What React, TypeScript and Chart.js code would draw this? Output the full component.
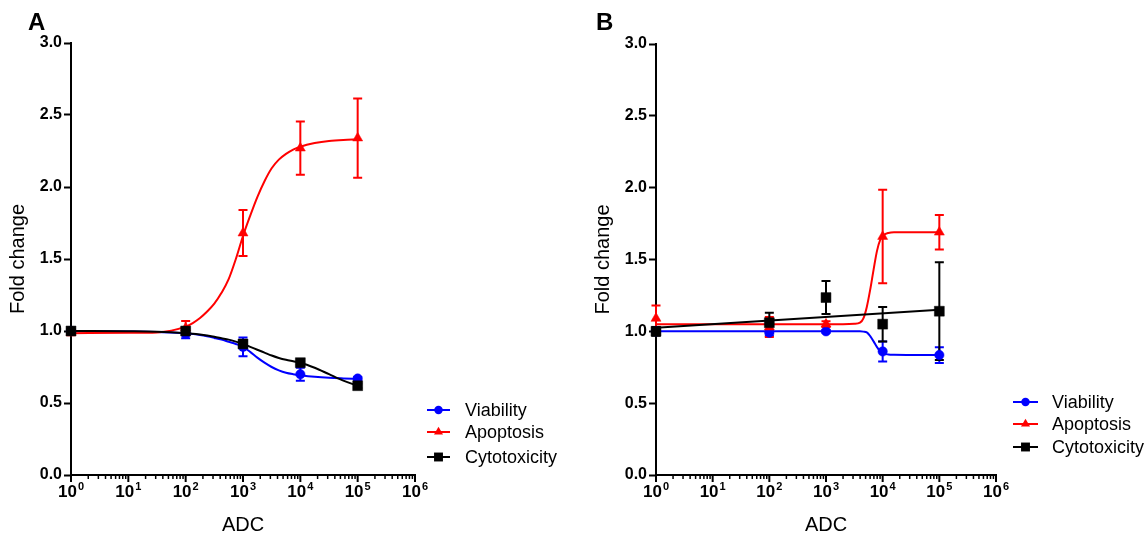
import React, { useEffect, useRef } from 'react';
import { Chart, registerables } from 'chart.js';

Chart.register(...registerables);

const FONT = '"Liberation Sans", Arial, Helvetica, sans-serif';

// ---------- shared ----------
const doses = [1, 100, 1000, 10000, 100000];
const yTicks = [0, 0.5, 1.0, 1.5, 2.0, 2.5, 3.0];
const xDecades = [1, 10, 100, 1000, 10000, 100000, 1000000];
const xExponents = ['0', '1', '2', '3', '4', '5', '6'];
const seriesNames = ['Viability', 'Apoptosis', 'Cytotoxicity'];
const seriesColors = ['#0000ff', '#ff0000', '#000000'];
const seriesStyles = ['circle', 'triangle', 'rect'];
const seriesRadii = [4.7, 5.8, 7];

// ---------- panel A ----------
const viabilityA = [1.0, 0.98, 0.89, 0.7, 0.67];
const viabilityErrA = [0.01, 0.03, 0.065, 0.045, 0.01];
const apoptosisA = [0.99, 1.02, 1.68, 2.27, 2.34];
const apoptosisErrA = [0.02, 0.05, 0.16, 0.185, 0.275];
const cytotoxicityA = [1.0, 1.0, 0.91, 0.78, 0.62];
const cytotoxicityErrA = [0.01, 0.02, 0.02, 0.015, 0.015];

const fitXA = [1, 10, 31.6, 100, 133, 178, 237, 316, 422, 562, 750, 1000, 1334, 1778, 2371, 3162, 4217, 5623, 7499, 10000, 17783, 31623, 56234, 100000];
const viabilityFitA = [0.998, 0.996, 0.993, 0.985, 0.979, 0.972, 0.963, 0.952, 0.94, 0.925, 0.91, 0.89, 0.855, 0.815, 0.78, 0.75, 0.727, 0.71, 0.7, 0.693, 0.682, 0.675, 0.671, 0.668];
const apoptosisFitA = [0.985, 0.987, 0.99, 1.03, 1.055, 1.09, 1.135, 1.19, 1.265, 1.36, 1.5, 1.66, 1.8, 1.93, 2.04, 2.13, 2.19, 2.23, 2.26, 2.28, 2.305, 2.32, 2.327, 2.33];
const cytotoxicityFitA = [1.0, 0.998, 0.995, 0.985, 0.981, 0.975, 0.968, 0.96, 0.95, 0.94, 0.926, 0.91, 0.89, 0.87, 0.85, 0.83, 0.813, 0.8, 0.79, 0.78, 0.745, 0.7, 0.655, 0.62];

// ---------- panel B ----------
const viabilityB = [1.0, 0.99, 1.0, 0.86, 0.835];
const viabilityErrB = [0.01, 0.02, 0.01, 0.07, 0.055];
const apoptosisB = [1.09, 1.03, 1.05, 1.66, 1.69];
const apoptosisErrB = [0.09, 0.07, 0.02, 0.325, 0.12];
const cytotoxicityB = [1.0, 1.06, 1.235, 1.05, 1.14];
const cytotoxicityErrB = [0.03, 0.07, 0.115, 0.12, 0.34];

const fitXB = [1, 10, 100, 1000, 1995, 3162, 3981, 4571, 5248, 6026, 6918, 7943, 9120, 10471, 12589, 15849, 31623, 100000];
const viabilityFitB = [1.0, 1.0, 1.0, 1.0, 1.0, 1.0, 1.0, 0.998, 0.993, 0.967, 0.93, 0.89, 0.86, 0.845, 0.839, 0.837, 0.836, 0.835];
const apoptosisFitB = [1.05, 1.05, 1.05, 1.05, 1.05, 1.052, 1.06, 1.09, 1.17, 1.29, 1.43, 1.56, 1.64, 1.67, 1.685, 1.69, 1.69, 1.69];
const cytotoxicityFitXB = [1, 100000];
const cytotoxicityFitB = [1.025, 1.15];

type PanelSpec = {
  left: number;
  width: number;
  top: number;
  bottom: number;
  axisLeft: number;
  axisRight: number;
  letter: string;
  letterX: number;
  legendX0: number;
  legendX1: number;
  legendTextX: number;
  legendRows: number[];
  values: number[][];
  errors: number[][];
  fitX: number[][];
  fitY: number[][];
};

const H = 533;

const panelA: PanelSpec = {
  left: 0,
  width: 574,
  top: 43,
  bottom: 475,
  axisLeft: 71,
  axisRight: 415,
  letter: 'A',
  letterX: 28,
  legendX0: 427,
  legendX1: 450,
  legendTextX: 465,
  legendRows: [410, 432, 457],
  values: [viabilityA, apoptosisA, cytotoxicityA],
  errors: [viabilityErrA, apoptosisErrA, cytotoxicityErrA],
  fitX: [fitXA, fitXA, fitXA],
  fitY: [viabilityFitA, apoptosisFitA, cytotoxicityFitA],
};

const panelB: PanelSpec = {
  left: 585,
  width: 563,
  top: 44,
  bottom: 475,
  axisLeft: 71,
  axisRight: 411,
  letter: 'B',
  letterX: 11,
  legendX0: 428,
  legendX1: 453,
  legendTextX: 467,
  legendRows: [402, 424, 447],
  values: [viabilityB, apoptosisB, cytotoxicityB],
  errors: [viabilityErrB, apoptosisErrB, cytotoxicityErrB],
  fitX: [fitXB, fitXB, cytotoxicityFitXB],
  fitY: [viabilityFitB, apoptosisFitB, cytotoxicityFitB],
};

function drawMarker(ctx: CanvasRenderingContext2D, style: string, x: number, y: number, r: number, color: string) {
  ctx.save();
  ctx.fillStyle = color;
  ctx.beginPath();
  if (style === 'circle') {
    ctx.arc(x, y, r, 0, Math.PI * 2);
  } else if (style === 'triangle') {
    let rad = 0;
    const step = (Math.PI * 2) / 3;
    ctx.moveTo(x + Math.sin(rad) * r, y - Math.cos(rad) * r);
    rad += step;
    ctx.lineTo(x + Math.sin(rad) * r, y - Math.cos(rad) * r);
    rad += step;
    ctx.lineTo(x + Math.sin(rad) * r, y - Math.cos(rad) * r);
    ctx.closePath();
  } else {
    const s = Math.SQRT1_2 * r;
    ctx.rect(x - s, y - s, 2 * s, 2 * s);
  }
  ctx.fill();
  ctx.restore();
}

function makeOverlay(spec: PanelSpec) {
  return {
    id: 'overlay' + spec.letter,
    beforeDatasetsDraw(chart: any) {
      const ctx: CanvasRenderingContext2D = chart.ctx;
      const xs = chart.scales.x;
      const ys = chart.scales.y;
      ctx.save();
      ctx.lineWidth = 2;
      for (let s = 0; s < 3; s++) {
        ctx.strokeStyle = seriesColors[s];
        for (let j = 0; j < doses.length; j++) {
          const v = spec.values[s][j];
          const e = spec.errors[s][j];
          const px = xs.getPixelForValue(doses[j]);
          const yt = ys.getPixelForValue(v + e);
          const yb = ys.getPixelForValue(v - e);
          ctx.beginPath();
          ctx.moveTo(px, yt);
          ctx.lineTo(px, yb);
          ctx.moveTo(px - 4.5, yt);
          ctx.lineTo(px + 4.5, yt);
          ctx.moveTo(px - 4.5, yb);
          ctx.lineTo(px + 4.5, yb);
          ctx.stroke();
        }
      }
      ctx.restore();
    },
    afterDraw(chart: any) {
      const ctx: CanvasRenderingContext2D = chart.ctx;
      const xs = chart.scales.x;
      const area = chart.chartArea;
      ctx.save();
      // x ticks
      ctx.strokeStyle = '#000';
      for (let d = 0; d < xDecades.length; d++) {
        const px = xs.getPixelForValue(xDecades[d]);
        ctx.lineWidth = 2;
        ctx.beginPath();
        ctx.moveTo(px, area.bottom);
        ctx.lineTo(px, area.bottom + 7);
        ctx.stroke();
        if (d < xDecades.length - 1) {
          ctx.lineWidth = 1.5;
          for (let m = 2; m <= 9; m++) {
            const pm = xs.getPixelForValue(m * xDecades[d]);
            ctx.beginPath();
            ctx.moveTo(pm, area.bottom);
            ctx.lineTo(pm, area.bottom + 4);
            ctx.stroke();
          }
        }
      }
      // x tick labels 10^n
      ctx.fillStyle = '#000';
      ctx.textBaseline = 'alphabetic';
      ctx.textAlign = 'left';
      for (let d = 0; d < xDecades.length; d++) {
        const px = xs.getPixelForValue(xDecades[d]);
        ctx.font = `bold 17px ${FONT}`;
        const w1 = ctx.measureText('10').width;
        ctx.font = `bold 11px ${FONT}`;
        const w2 = ctx.measureText(xExponents[d]).width;
        const start = px - (w1 + 1 + w2) / 2;
        ctx.font = `bold 17px ${FONT}`;
        ctx.fillText('10', start, 497);
        ctx.font = `bold 11px ${FONT}`;
        ctx.fillText(xExponents[d], start + w1 + 1, 490);
      }
      // x title
      ctx.font = `20px ${FONT}`;
      ctx.textAlign = 'center';
      ctx.fillText('ADC', (area.left + area.right) / 2, 531);
      // panel letter
      ctx.font = `bold 24px ${FONT}`;
      ctx.textAlign = 'left';
      ctx.fillText(spec.letter, spec.letterX, 30);
      // legend
      ctx.font = `18px ${FONT}`;
      ctx.textBaseline = 'middle';
      for (let s = 0; s < 3; s++) {
        const y = spec.legendRows[s];
        ctx.strokeStyle = seriesColors[s];
        ctx.lineWidth = 2;
        ctx.beginPath();
        ctx.moveTo(spec.legendX0, y);
        ctx.lineTo(spec.legendX1, y);
        ctx.stroke();
        drawMarker(ctx, seriesStyles[s], (spec.legendX0 + spec.legendX1) / 2, y, seriesRadii[s] * 0.9, seriesColors[s]);
        ctx.fillStyle = '#000';
        ctx.fillText(seriesNames[s], spec.legendTextX, y + 1);
      }
      ctx.restore();
    },
  };
}

function Panel({ spec }: { spec: PanelSpec }) {
  const ref = useRef<HTMLCanvasElement>(null);
  useEffect(() => {
    const canvas = ref.current;
    if (!canvas) return;
    const datasets: any[] = [];
    for (let s = 0; s < 3; s++) {
      datasets.push({
        label: seriesNames[s] + ' fit',
        data: spec.fitX[s].map((x, i) => ({ x, y: spec.fitY[s][i] })),
        showLine: true,
        borderColor: seriesColors[s],
        backgroundColor: seriesColors[s],
        borderWidth: 2,
        pointRadius: 0,
        cubicInterpolationMode: 'monotone',
        clip: false,
        order: 5 - s,
      });
    }
    for (let s = 0; s < 3; s++) {
      datasets.push({
        label: seriesNames[s],
        data: doses.map((x, i) => ({ x, y: spec.values[s][i] })),
        showLine: false,
        pointStyle: seriesStyles[s],
        pointRadius: seriesRadii[s],
        pointBackgroundColor: seriesColors[s],
        pointBorderColor: seriesColors[s],
        pointBorderWidth: 0.5,
        clip: false,
        order: 2 - s,
      });
    }
    const chart = new Chart(canvas, {
      type: 'scatter',
      data: { datasets },
      options: {
        animation: false,
        responsive: false,
        maintainAspectRatio: false,
        events: [],
        layout: {
          padding: { left: 0, top: spec.top, right: spec.width - spec.axisRight, bottom: 0 },
        },
        plugins: {
          legend: { display: false },
          tooltip: { enabled: false },
          title: { display: false },
        },
        scales: {
          x: {
            type: 'logarithmic',
            position: 'bottom',
            min: 1,
            max: 1000000,
            grid: { display: false },
            border: { display: true, color: '#000', width: 2 },
            ticks: { display: false },
            afterFit: (s: any) => {
              s.height = H - spec.bottom;
            },
          },
          y: {
            type: 'linear',
            position: 'left',
            min: 0,
            max: 3,
            afterBuildTicks: (s: any) => {
              s.ticks = yTicks.map((v) => ({ value: v }));
            },
            grid: {
              display: true,
              drawOnChartArea: false,
              drawTicks: true,
              tickLength: 7,
              tickWidth: 2,
              tickColor: '#000',
            },
            border: { display: true, color: '#000', width: 2 },
            ticks: {
              color: '#000',
              padding: 2,
              font: { family: FONT, size: 16, weight: 'bold' },
              callback: (v: any) => Number(v).toFixed(1),
            },
            title: {
              display: true,
              text: 'Fold change',
              color: '#000',
              font: { family: FONT, size: 20 },
              padding: { top: 6, bottom: 0 },
            },
            afterFit: (s: any) => {
              s.width = spec.axisLeft;
            },
          },
        },
      } as any,
      plugins: [makeOverlay(spec)],
    });
    return () => chart.destroy();
  }, [spec]);
  return (
    <canvas
      ref={ref}
      width={spec.width}
      height={H}
      style={{ position: 'absolute', left: spec.left, top: 0, width: spec.width, height: H }}
    />
  );
}

export default function App() {
  return (
    <div style={{ position: 'absolute', left: 0, top: 0, width: 1148, height: H, background: '#fff', overflow: 'hidden' }}>
      <Panel spec={panelA} />
      <Panel spec={panelB} />
    </div>
  );
}
